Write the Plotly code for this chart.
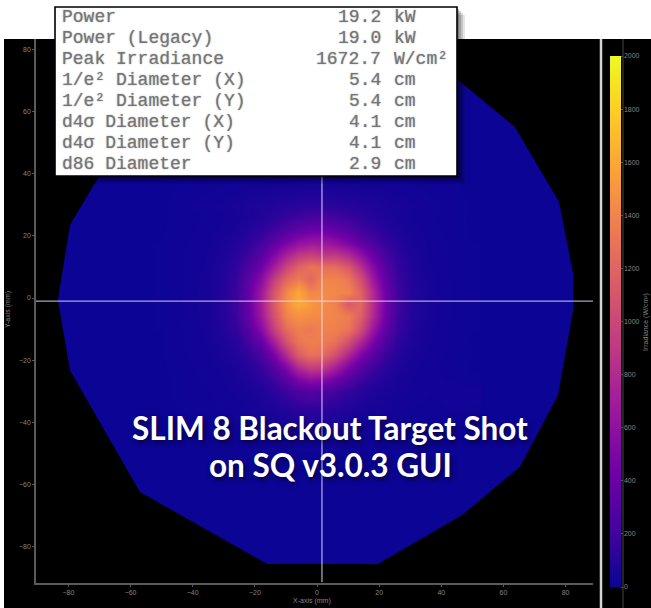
import plotly.graph_objects as go

W, H = 651, 608

# ---------- data ----------
GRID_X = [-50, -44, -36, -30, -26, -22, -18, -14, -10, -6, -2, 2, 6, 10, 14, 18, 22, 26, 30, 36, 44, 50]
GRID_Y = [50, 44, 36, 30, 26, 22, 18, 14, 10, 6, 2, -2, -6, -10, -14, -18, -22, -26, -30, -36, -44, -50]
IRRADIANCE = [
    [2,3,4,5,5,6,6,6,7,7,7,7,7,7,6,6,6,5,5,4,3,2],
    [4,8,10,12,14,15,16,17,18,19,20,20,19,18,17,16,15,14,12,10,8,4],
    [6,12,18,24,28,32,36,40,42,44,45,45,44,42,40,36,32,28,24,18,12,6],
    [8,18,32,44,56,68,80,94,106,118,130,130,118,104,90,76,64,52,42,28,16,8],
    [8,14,24,36,48,66,90,120,160,195,225,235,210,172,130,98,74,54,38,24,14,8],
    [9,16,28,44,64,95,135,190,265,340,390,400,355,285,210,148,104,70,48,28,15,9],
    [10,18,32,56,88,135,210,330,470,590,650,650,590,480,345,235,155,95,60,32,17,10],
    [10,20,36,70,115,185,310,500,730,880,950,880,890,780,590,375,220,130,72,36,18,10],
    [10,21,40,82,140,255,440,700,1000,1200,1300,1270,1260,1130,860,530,300,160,85,40,19,10],
    [10,22,44,92,165,320,570,930,1220,1350,1220,1400,1400,1320,1060,650,360,180,95,44,20,10],
    [10,22,46,98,180,370,680,1080,1420,1600,1400,1450,1420,1400,1190,780,420,200,100,46,20,10],
    [10,22,46,100,185,390,720,1120,1460,1620,1520,1440,1380,1120,1220,810,440,210,102,46,20,10],
    [10,22,44,98,180,370,680,1060,1400,1470,1440,1420,1400,1360,1170,780,420,200,100,46,20,10],
    [10,21,42,88,150,300,560,940,1250,1370,1330,1390,1370,1310,1050,640,350,175,88,42,19,10],
    [9,20,38,72,120,215,385,720,1090,1320,1370,1350,1290,1070,790,480,260,140,74,38,18,9],
    [9,18,32,58,92,150,255,470,830,1160,1300,1240,1060,790,510,310,175,105,60,32,16,9],
    [8,16,28,46,68,105,170,300,540,840,980,940,750,510,330,195,122,76,48,28,15,8],
    [8,14,24,38,54,76,115,190,320,500,590,550,430,290,190,125,84,56,38,24,22,12],
    [7,13,20,30,42,56,78,120,190,260,300,275,215,155,110,80,58,44,32,24,34,30],
    [6,11,16,24,30,38,50,66,85,108,120,115,95,74,58,44,36,28,22,16,24,20],
    [4,8,10,12,14,16,18,21,25,28,30,30,27,24,21,18,16,14,12,10,10,6],
    [2,3,4,5,5,6,6,7,7,8,8,8,7,7,6,6,6,5,5,4,3,2],
]
EDGE_X = [-83.4, -79.5, -70.5, -57, -17, 19, 45.4, 63.7, 77.9, 82.4, 82.4, 77.6, 65.3, 46.7, 19.6, -16.1, -57, -79.5]
EDGE_Y = [-0.6, 23.5, 38.6, 62, 80, 80, 70.1, 55, 30.9, 8, -3.9, -31.2, -54.3, -69.8, -85.5, -85.5, -62.4, -23.2]
CROSS_X, CROSS_Y = 1.6, -1.0
AXIS_TICKS = [-80, -60, -40, -20, 0, 20, 40, 60, 80]
TABLE_LABELS = ["Power", "Power (Legacy)", "Peak Irradiance", "1/e² Diameter (X)", "1/e² Diameter (Y)",
                "d4σ Diameter (X)", "d4σ Diameter (Y)", "d86 Diameter"]
TABLE_VALUES = ["19.2", "19.0", "1672.7", "5.4", "5.4", "4.1", "4.1", "2.9"]
TABLE_UNITS = ["kW", "kW", "W/cm²", "cm", "cm", "cm", "cm", "cm"]
CAPTION = ["SLIM 8 Blackout Target Shot", "on SQ v3.0.3 GUI"]
COLORS = [[0, "#0b0494"], [0.03, "#1a0498"], [0.111, "#46039f"], [0.222, "#7201a8"], [0.333, "#9c179e"],
          [0.444, "#bd3786"], [0.556, "#d8576b"], [0.667, "#ed7953"], [0.778, "#fb9f3a"], [0.889, "#fdca26"],
          [1, "#f0f921"]]


def px(x):
    return x / W


def py(y):
    return 1 - y / H


GRAY = "#858585"
LABEL_FONT = dict(family="Liberation Sans", size=7, color=GRAY)

fig = go.Figure(go.Heatmap(
    x=GRID_X, y=GRID_Y, z=IRRADIANCE, zmin=0, zmax=2000, zsmooth="best",
    colorscale=COLORS, hoverinfo="skip",
    colorbar=dict(
        thicknessmode="pixels", thickness=11, lenmode="fraction", len=(587 - 56) / H,
        x=px(610), xanchor="left", xpad=0, y=py(587), yanchor="bottom", ypad=0,
        outlinewidth=0, tick0=0, dtick=200, ticks="outside", ticklen=2, tickcolor="#555",
        tickfont=LABEL_FONT,
    ),
))


def rect(x0, y0, x1, y1, **kw):
    return dict(type="rect", xref="paper", yref="paper", x0=px(x0), y0=py(y0), x1=px(x1), y1=py(y1), **kw)


def line(x0, y0, x1, y1, color, width, **kw):
    return dict(type="line", xref="paper", yref="paper", x0=px(x0), y0=py(y0), x1=px(x1), y1=py(y1),
                line=dict(color=color, width=width), **kw)


edge_path = "M " + " L ".join(f"{a},{b}" for a, b in zip(EDGE_X, EDGE_Y)) + " Z"

shapes = [
    rect(4, 39, W + 1, H + 1, fillcolor="black", line_width=0, layer="below"),
    dict(type="path", xref="x", yref="y", path=edge_path, fillcolor="#0c0494", line_width=0, layer="below"),
    dict(type="line", xref="x", yref="paper", x0=CROSS_X, x1=CROSS_X, y0=py(582), y1=py(39),
         line=dict(color="rgba(235,225,255,0.72)", width=1.3)),
    dict(type="line", xref="paper", yref="y", x0=px(36), x1=px(593), y0=CROSS_Y, y1=CROSS_Y,
         line=dict(color="rgba(235,225,255,0.72)", width=1.3)),
    line(601, 39, 601, H + 1, "#d4d4d4", 2.5),
    line(623, 39, 623, H + 1, "#3c3c3c", 1.2, layer="below"),
]
for off, alpha in ((8, 0.10), (6, 0.14), (4, 0.18), (2, 0.25)):
    shapes.append(rect(55 + off, 7 + off, 457 + off, 176 + off, fillcolor=f"rgba(0,0,0,{alpha})", line_width=0))
shapes.append(rect(55, 7, 457, 176, fillcolor="white", line=dict(color="black", width=1.6)))

annotations = []
row_ys = [17, 38, 59, 80, 101, 122, 143, 164]
TABLE_FONT = dict(family="Liberation Mono", size=18, color="#757575", shadow="0 0 1.5px #999")
for ry, lab, val, unit in zip(row_ys, TABLE_LABELS, TABLE_VALUES, TABLE_UNITS):
    common = dict(xref="paper", yref="paper", y=py(ry), yanchor="middle", showarrow=False, font=TABLE_FONT)
    annotations.append(dict(x=px(60), xanchor="left", text=lab, **common))
    annotations.append(dict(x=px(383), xanchor="right", text=val, **common))
    annotations.append(dict(x=px(392), xanchor="left", text=unit, **common))

CAP_FONT = dict(family="Lato", size=31.5, color="white", weight="bold", shadow="2px 3px 5px rgba(0,0,0,0.55)")
for cy, text in zip((428, 465), CAPTION):
    annotations.append(dict(xref="paper", yref="paper", x=px(330), y=py(cy), yanchor="middle", xanchor="center",
                            text=text, showarrow=False, font=CAP_FONT))

annotations.append(dict(xref="paper", yref="paper", x=px(312), y=py(601), yanchor="middle", xanchor="center",
                        text="X-axis (mm)", showarrow=False, font=LABEL_FONT))
annotations.append(dict(xref="paper", yref="paper", x=px(8), y=py(310), yanchor="middle", xanchor="center",
                        text="Y-axis (mm)", textangle=-90, showarrow=False, font=LABEL_FONT))
annotations.append(dict(xref="paper", yref="paper", x=px(646), y=py(322), yanchor="middle", xanchor="center",
                        text="Irradiance (W/cm²)", textangle=-90, showarrow=False, font=LABEL_FONT))

axis_common = dict(showgrid=False, zeroline=False, showline=True, linecolor="#5a5a5a", linewidth=1.5,
                   tickvals=AXIS_TICKS, ticks="outside", ticklen=2, tickcolor="#5a5a5a", tickfont=LABEL_FONT)

fig.update_layout(
    width=W, height=H, autosize=False, margin=dict(l=0, r=0, t=0, b=0),
    paper_bgcolor="white", plot_bgcolor="rgba(0,0,0,0)", showlegend=False,
    xaxis=dict(domain=[px(36), px(593)], range=[(36 - 317) / 3.107, (593 - 317) / 3.107], **axis_common),
    yaxis=dict(domain=[py(583), py(39)], range=[(298 - 583) / 3.11, (298 - 39) / 3.11], **axis_common),
    shapes=shapes, annotations=annotations,
)

fig.write_html("out.html", config=dict(displayModeBar=False),
               post_script="document.body.style.margin='0';document.documentElement.style.overflow='hidden';")
